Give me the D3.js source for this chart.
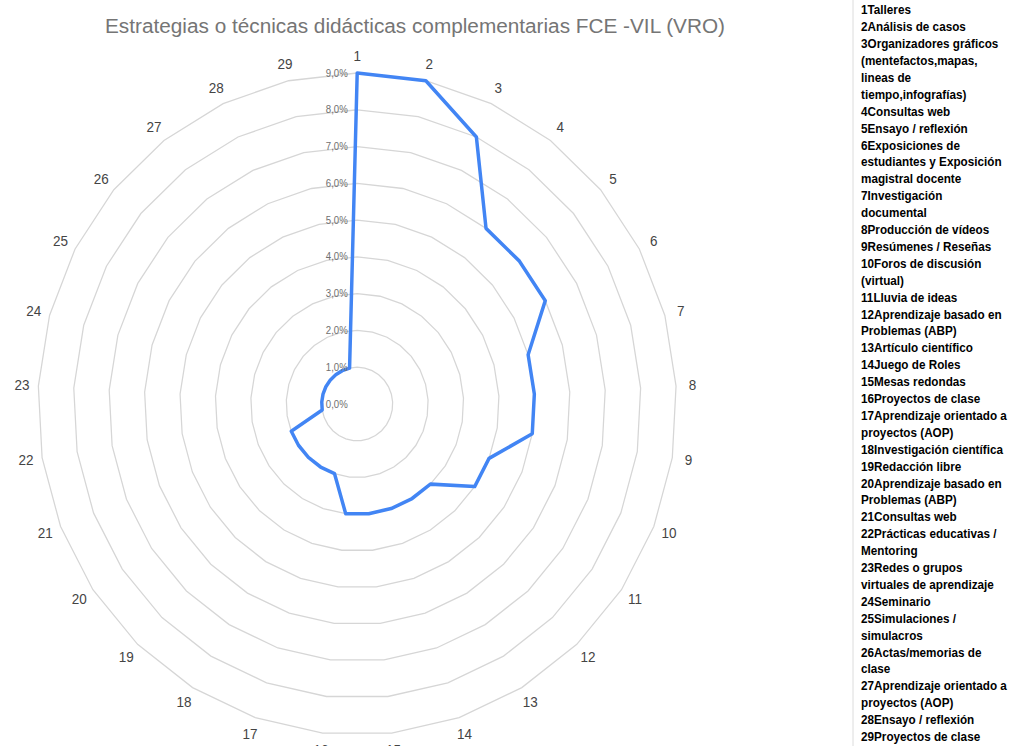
<!DOCTYPE html>
<html>
<head>
<meta charset="utf-8">
<script src="https://cdn.jsdelivr.net/npm/d3@7/dist/d3.min.js"></script>
<style>
  html, body { margin: 0; padding: 0; background: #fff; }
  svg { display: block; }
</style>
</head>
<body>
<svg id="chart" width="1009" height="746"></svg>
<script>
// ---- data ----
const categories = ["1","2","3","4","5","6","7","8","9","10","11","12","13","14","15","16","17","18","19","20","21","22","23","24","25","26","27","28","29"];
const values = [9,9,8,6,6,6,5,5,5,4,4,3,3,3,3,3,2,2,2,2,2,1,1,1,1,1,1,1,1];
const tickValues = [0,1,2,3,4,5,6,7,8,9];
const title = "Estrategias o técnicas didácticas complementarias FCE -VIL (VRO)";
const legendLines = [
  "1Talleres",
  "2Análisis de casos",
  "3Organizadores gráficos",
  "(mentefactos,mapas,",
  "lineas de",
  "tiempo,infografías)",
  "4Consultas web",
  "5Ensayo / reflexión",
  "6Exposiciones de",
  "estudiantes y Exposición",
  "magistral docente",
  "7Investigación",
  "documental",
  "8Producción de vídeos",
  "9Resúmenes / Reseñas",
  "10Foros de discusión",
  "(virtual)",
  "11Lluvia de ideas",
  "12Aprendizaje basado en",
  "Problemas (ABP)",
  "13Artículo científico",
  "14Juego de Roles",
  "15Mesas redondas",
  "16Proyectos de clase",
  "17Aprendizaje orientado a",
  "proyectos (AOP)",
  "18Investigación científica",
  "19Redacción libre",
  "20Aprendizaje basado en",
  "Problemas (ABP)",
  "21Consultas web",
  "22Prácticas educativas /",
  "Mentoring",
  "23Redes o grupos",
  "virtuales de aprendizaje",
  "24Seminario",
  "25Simulaciones /",
  "simulacros",
  "26Actas/memorias de",
  "clase",
  "27Aprendizaje orientado a",
  "proyectos (AOP)",
  "28Ensayo / reflexión",
  "29Proyectos de clase"
];

// ---- layout ----
const svg = d3.select("#chart");
const cx = 357.2, cy = 404, squeeze = 0.9647;
const r = d3.scaleLinear().domain([0, 9]).range([0, 331]);
const angle = d3.scalePoint().domain(categories).range([0, 2 * Math.PI * (1 - 1 / categories.length)]);
const labelR = 348;

// title
svg.append("text")
  .attr("x", 415).attr("y", 33)
  .attr("text-anchor", "middle")
  .attr("font-family", "Liberation Sans, Arial, sans-serif")
  .attr("font-size", 20)
  .attr("fill", "#757575")
  .attr("textLength", 620)
  .attr("lengthAdjust", "spacingAndGlyphs")
  .text(title);

const g = svg.append("g").attr("transform", `translate(${cx},${cy}) scale(${squeeze},1)`);

const radialLine = d3.lineRadial()
  .angle(d => angle(d.c))
  .radius(d => r(d.v))
  .curve(d3.curveLinearClosed);

// grid rings (29-gons)
tickValues.filter(t => t > 0).forEach(t => {
  g.append("path")
    .datum(categories.map(c => ({c, v: t})))
    .attr("d", radialLine)
    .attr("fill", "none")
    .attr("stroke", "#d6d6d6")
    .attr("stroke-width", 1.3);
});

// data polygon
g.append("path")
  .datum(categories.map((c, i) => ({c, v: values[i]})))
  .attr("d", radialLine)
  .attr("fill", "none")
  .attr("stroke", "#4285f4")
  .attr("stroke-width", 3.6)
  .attr("stroke-linejoin", "round");

// tick labels
g.selectAll(".tick")
  .data(tickValues)
  .join("text")
  .attr("x", -9.8)
  .attr("y", d => -r(d))
  .attr("dy", "0.35em")
  .attr("text-anchor", "end")
  .attr("font-family", "Liberation Sans, Arial, sans-serif")
  .attr("font-size", 10)
  .attr("fill", "#6f6f6f")
  .text(d => d.toFixed(1).replace(".", ",") + "%");

// category labels
g.selectAll(".cat")
  .data(categories)
  .join("text")
  .attr("x", d => labelR * Math.sin(angle(d)))
  .attr("y", d => -labelR * Math.cos(angle(d)))
  .attr("dy", "0.35em")
  .attr("text-anchor", "middle")
  .attr("font-family", "Liberation Sans, Arial, sans-serif")
  .attr("font-size", 14)
  .attr("fill", "#444")
  .text(d => d);

// legend panel
svg.append("line")
  .attr("x1", 853).attr("x2", 853).attr("y1", 0).attr("y2", 746)
  .attr("stroke", "#dcdcdc").attr("stroke-width", 1);

const lg = svg.append("g");
const lt = lg.selectAll("text")
  .data(legendLines)
  .join("text")
  .attr("x", 0)
  .attr("y", (d, i) => 10 + i * 16.9)
  .attr("dy", "0.35em")
  .attr("font-family", "Liberation Sans, Arial, sans-serif")
  .attr("font-weight", "bold")
  .attr("font-size", 12.5)
  .attr("fill", "#000")
  .text(d => d);
let ref = 0;
lt.each(function(d) { if (d === "18Investigación científica") ref = this.getComputedTextLength(); });
const sx = ref > 0 ? 142 / ref : 0.85;
lg.attr("transform", `translate(861,0) scale(${sx},1)`);
</script>
</body>
</html>
